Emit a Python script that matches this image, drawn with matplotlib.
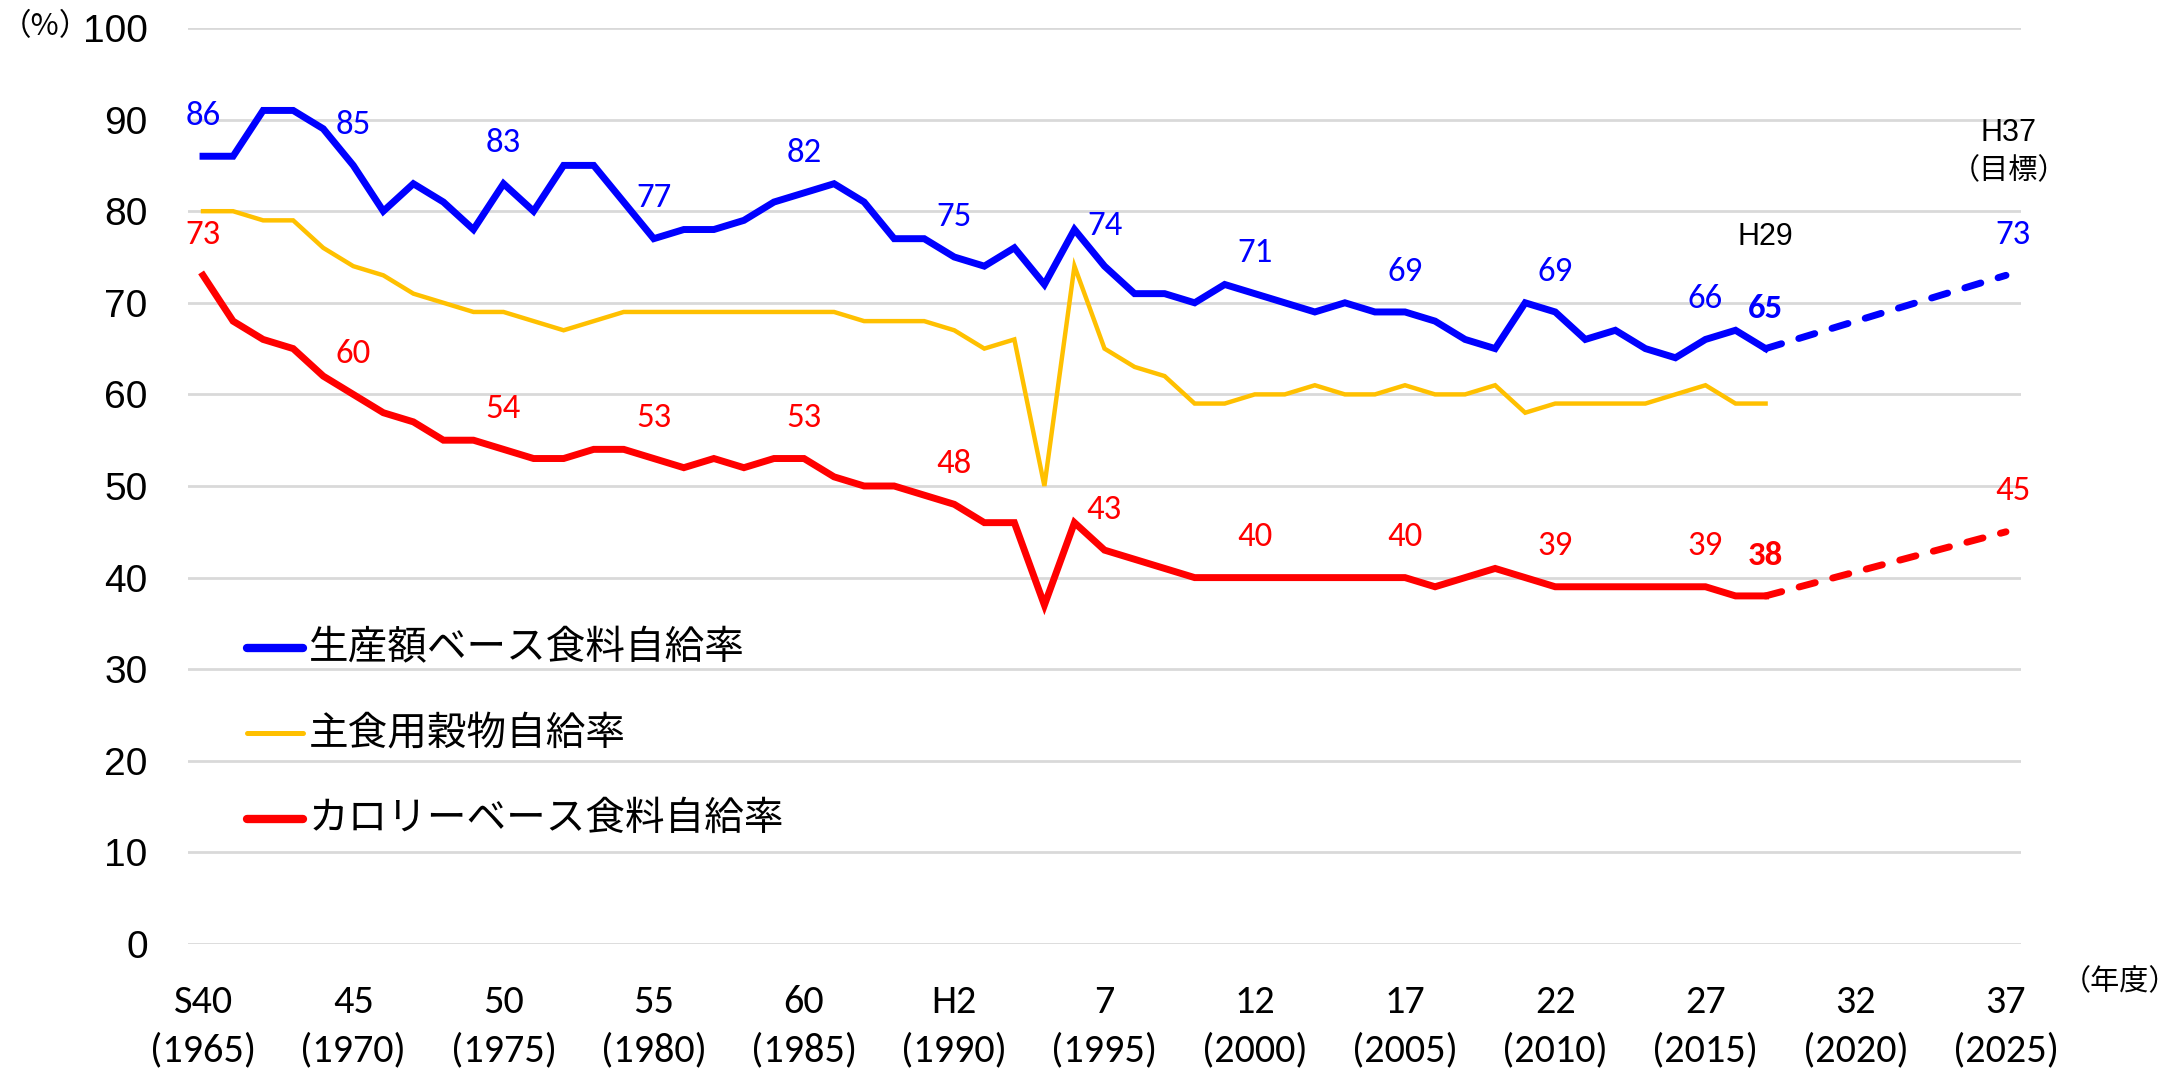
import matplotlib
matplotlib.use("Agg")
import matplotlib.pyplot as plt
from matplotlib import font_manager

# ---------------- data ----------------
years = list(range(1965, 2018))
production_rate = [86, 86, 91, 91, 89, 85, 80, 83, 81, 78,
                   83, 80, 85, 85, 81, 77, 78, 78, 79, 81,
                   82, 83, 81, 77, 77, 75, 74, 76, 72, 78,
                   74, 71, 71, 70, 72, 71, 70, 69, 70, 69,
                   69, 68, 66, 65, 70, 69, 66, 67, 65, 64,
                   66, 67, 65]
staple_grain_rate = [80, 80, 79, 79, 76, 74, 73, 71, 70, 69,
                     69, 68, 67, 68, 69, 69, 69, 69, 69, 69,
                     69, 69, 68, 68, 68, 67, 65, 66, 50, 74,
                     65, 63, 62, 59, 59, 60, 60, 61, 60, 60,
                     61, 60, 60, 61, 58, 59, 59, 59, 59, 60,
                     61, 59, 59]
calorie_rate = [73, 68, 66, 65, 62, 60, 58, 57, 55, 55,
                54, 53, 53, 54, 54, 53, 52, 53, 52, 53,
                53, 51, 50, 50, 49, 48, 46, 46, 37, 46,
                43, 42, 41, 40, 40, 40, 40, 40, 40, 40,
                40, 39, 40, 41, 40, 39, 39, 39, 39, 39,
                39, 38, 38]
target_years = [2017, 2025]
production_target = [65, 73]
calorie_target = [38, 45]

label_years = [1965, 1970, 1975, 1980, 1985, 1990, 1995, 2000, 2005, 2010, 2015]

tick_years = [1965, 1970, 1975, 1980, 1985, 1990, 1995, 2000, 2005, 2010, 2015, 2020, 2025]
tick_era = ["S40", "45", "50", "55", "60", "H2", "7", "12", "17", "22", "27", "32", "37"]
y_ticks = [0, 10, 20, 30, 40, 50, 60, 70, 80, 90, 100]

series_names = ["生産額ベース食料自給率", "主食用穀物自給率", "カロリーベース食料自給率"]

# ---------------- fonts ----------------
avail = {f.name for f in font_manager.fontManager.ttflist}
def pick(*names):
    for n in names:
        if n in avail:
            return n
    return "DejaVu Sans"

F_NUM = pick("Carlito", "Lato", "Open Sans", "DejaVu Sans")
F_ARIAL = pick("Liberation Sans", "Arimo", "DejaVu Sans")
F_CJK = pick("Noto Sans CJK JP", "Noto Sans CJK SC")

BLUE = "#0000FF"
YELLOW = "#FFC000"
RED = "#FF0000"

W, H = 2184, 1072
fig = plt.figure(figsize=(W / 100, H / 100), dpi=100)
left, right, top, bottom = 188, 2021, 28, 944
ax = fig.add_axes([left / W, 1 - bottom / H, (right - left) / W, (bottom - top) / H])

ax.set_xlim(1964.5, 2025.5)
ax.set_ylim(0, 100)
for s in ax.spines.values():
    s.set_visible(False)
ax.set_yticks(y_ticks)
ax.yaxis.grid(True, color="#D9D9D9", linewidth=2)
ax.set_axisbelow(True)
ax.tick_params(axis="both", length=0)
ax.tick_params(axis="y", pad=29)
ax.set_yticklabels([str(v) for v in y_ticks], fontsize=28, fontfamily=F_ARIAL)
ax.set_xticks(tick_years)
ax.set_xticklabels([f"{e}\n({y})" for e, y in zip(tick_era, tick_years)],
                   fontsize=29, fontfamily=F_NUM, linespacing=1.4)
ax.tick_params(axis="x", pad=29)

lw_main = 5
ax.plot(years, production_rate, color=BLUE, lw=lw_main, solid_joinstyle="miter", zorder=4)
ax.plot(years, staple_grain_rate, color=YELLOW, lw=3.2, solid_joinstyle="miter", zorder=3)
ax.plot(years, calorie_rate, color=RED, lw=lw_main, solid_joinstyle="miter", zorder=4)
for vals, col in [(production_target, BLUE), (calorie_target, RED)]:
    ln, = ax.plot(target_years, vals, color=col, lw=lw_main, zorder=4,
                  dash_capstyle="round")
    ln.set_dashes((2.4, 2.6))

# data labels
off = 4.4
FS = 25
for yr in label_years:
    i = years.index(yr)
    ax.text(yr, production_rate[i] + off, str(production_rate[i]), color=BLUE,
            fontsize=FS, fontfamily=F_NUM, ha="center", va="center", zorder=5)
    ax.text(yr, calorie_rate[i] + off, str(calorie_rate[i]), color=RED,
            fontsize=FS, fontfamily=F_NUM, ha="center", va="center", zorder=5)
# latest (bold)
ax.text(target_years[0], production_target[0] + off, str(production_target[0]), color=BLUE,
        fontsize=FS, fontfamily=F_NUM, fontweight="bold", ha="center", va="center")
ax.text(target_years[0], calorie_target[0] + off, str(calorie_target[0]), color=RED,
        fontsize=FS, fontfamily=F_NUM, fontweight="bold", ha="center", va="center")
# targets
ax.text(target_years[1] + 0.25, production_target[1] + off, str(production_target[1]), color=BLUE,
        fontsize=FS, fontfamily=F_NUM, ha="center", va="center")
ax.text(target_years[1] + 0.25, calorie_target[1] + off, str(calorie_target[1]), color=RED,
        fontsize=FS, fontfamily=F_NUM, ha="center", va="center")

# annotations H29 / H37
ax.text(target_years[0], 77.2, "H29", fontsize=22, fontfamily=F_ARIAL,
        ha="center", va="center", color="black")
ax.text(target_years[1] + 0.1, 88.5, "H37", fontsize=22, fontfamily=F_ARIAL,
        ha="center", va="center", color="black")
ax.text(target_years[1] + 0.1, 84.4, "（目標）", fontsize=21, fontfamily=[F_CJK, "DejaVu Sans"],
        ha="center", va="center", color="black")

# axis unit labels
fig.text(1 / W, 1 - 27 / H, "（%）", fontsize=22, fontfamily=[F_CJK, "DejaVu Sans"],
         ha="left", va="center")
fig.text(2120 / W, 1 - 982 / H, "（年度）", fontsize=21, fontfamily=[F_CJK, "DejaVu Sans"],
         ha="center", va="center")

# legend (manual)
leg_rows = [648, 733, 819]
leg_cols = [BLUE, YELLOW, RED]
leg_lw = [lw_main + 1, 3.6, lw_main + 1]
for name, yy, col, lw in zip(series_names, leg_rows, leg_cols, leg_lw):
    ya = 1 - (yy - top) / (bottom - top)
    x0 = (247 - left) / (right - left)
    x1 = (303 - left) / (right - left)
    ax.plot([x0, x1], [ya, ya], transform=ax.transAxes, color=col, lw=lw,
            solid_capstyle="round", clip_on=False, zorder=5)
    ax.text((309 - left) / (right - left), ya, name, transform=ax.transAxes,
            fontsize=28.5, fontfamily=[F_CJK, "DejaVu Sans"], ha="left", va="center", zorder=5)

fig.savefig("out.png", dpi=100, facecolor="white")
